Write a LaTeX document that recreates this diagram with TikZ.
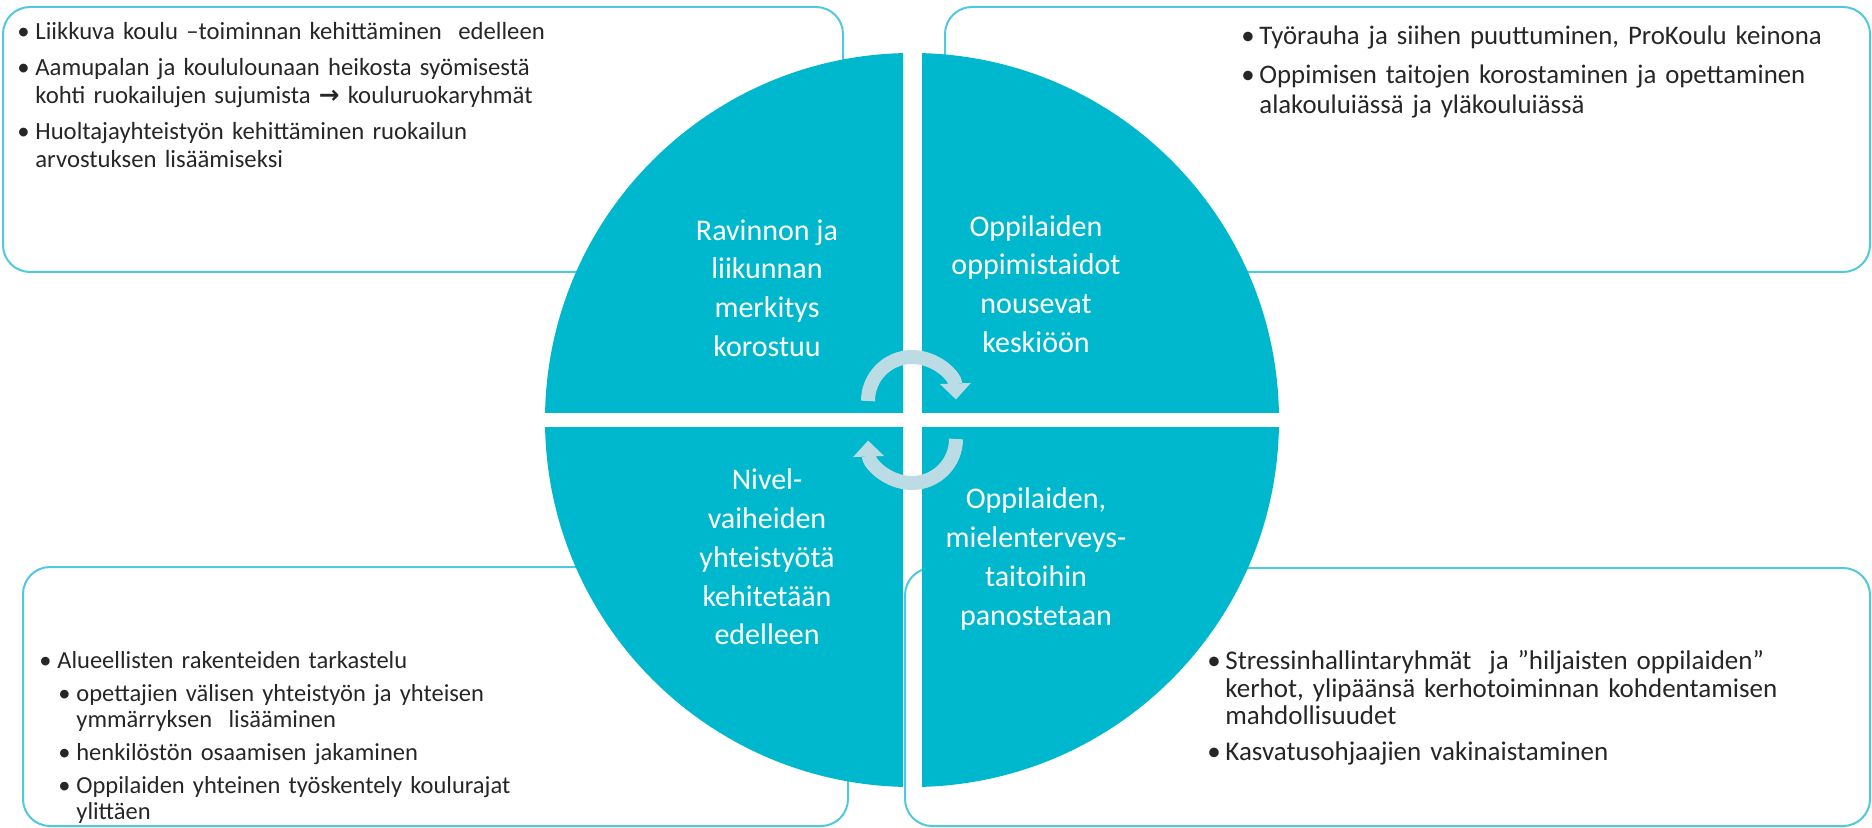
\documentclass[tikz,border=0pt]{standalone}
\usepackage{fontspec}
\setmainfont{Carlito}
\newfontfamily\arrowfont{DejaVu Sans}
\usetikzlibrary{arrows.meta}

\definecolor{circfill}{RGB}{0,184,206}
\definecolor{boxline}{RGB}{80,200,222}
\definecolor{arrowfill}{RGB}{187,219,229}
\definecolor{bodytext}{RGB}{38,38,38}

% bullet lines
\newcommand{\bitem}[1]{\par\hangindent=9pt\hangafter=1\noindent\makebox[9pt][l]{\textbullet}#1}
\newcommand{\bsub}[1]{\par\hangindent=18.5pt\hangafter=1\noindent\hspace*{9.5pt}\makebox[9pt][l]{\textbullet}#1}

\begin{document}
\begin{tikzpicture}[x=0.5pt, y=-0.5pt,
    infobox/.style={draw=boxline, line width=1pt, rounded corners=13.5pt},
    quadtext/.style={text=white, align=center, inner sep=0pt,
        font=\fontsize{15pt}{19.4pt}\selectfont},
    listtext/.style={text=bodytext, align=left, inner sep=0pt, anchor=north west,
        text width=440pt},
    cyclearrow/.style={draw=arrowfill, line width=7pt,
        -{Triangle[length=8pt,width=15pt]}}]

    \useasboundingbox (0,0) rectangle (1872,828);

    % boxes behind the circle
    \draw[infobox] (3,7) rectangle (843,272);
    \draw[infobox] (945,7) rectangle (1870,272);
    \draw[infobox] (23,567) rectangle (848,826);
    \draw[infobox] (905,568) rectangle (1870,826);

    % quadrants of the circle
    \foreach \xa/\ya/\xb/\yb in {500/40/903/412, 922/40/1320/412,
                                 500/427/903/800, 922/427/1320/800}{
        \begin{scope}
            \clip (\xa,\ya) rectangle (\xb,\yb);
            \fill[circfill] (912,420) circle[radius=367];
        \end{scope}
    }

    % cycle arrows
    \draw[cyclearrow] (868,401) arc[start angle=180, end angle=358, radius=44];
    \draw[cyclearrow] (956,439) arc[start angle=0, end angle=178, radius=44];

    % quadrant labels
    \node[quadtext] (ravinto) at (767,288) {Ravinnon ja\\liikunnan\\merkitys\\korostuu};
    \node[quadtext] (oppimis) at (1036,284) {Oppilaiden\\oppimistaidot\\nousevat\\keskiöön};
    \node[quadtext] (nivel) at (767,557) {Nivel-\\vaiheiden\\yhteistyötä\\kehitetään\\edelleen};
    \node[quadtext] (mieli) at (1036,559) {Oppilaiden,\\mielenterveys-\\taitoihin\\panostetaan};

    % lists in the boxes
    \node[listtext, font=\fontsize{12.35pt}{14.25pt}\selectfont] (tlist) at (17,4) {%
        \setlength{\parskip}{3.5pt}%
        \bitem{Liikkuva koulu –toiminnan kehittäminen \ edelleen}
        \bitem{Aamupalan ja koululounaan heikosta syömisestä\newline kohti ruokailujen sujumista {\arrowfont\bfseries →} kouluruokaryhmät}
        \bitem{Huoltajayhteistyön kehittäminen ruokailun\newline arvostuksen lisäämiseksi}\par};
    \node[listtext, font=\fontsize{13.4pt}{15pt}\selectfont] (trlist) at (1241,5) {%
        \setlength{\parskip}{4.5pt}%
        \bitem{Työrauha ja siihen puuttuminen, ProKoulu keinona}
        \bitem{Oppimisen taitojen korostaminen ja opettaminen\newline alakouluiässä ja yläkouluiässä}\par};
    \node[listtext, font=\fontsize{12.25pt}{13pt}\selectfont] (bllist) at (39,635) {%
        \setlength{\parskip}{3.5pt}%
        \bitem{Alueellisten rakenteiden tarkastelu}
        \bsub{opettajien välisen yhteistyön ja yhteisen\newline ymmärryksen \ lisääminen}
        \bsub{henkilöstön osaamisen jakaminen}
        \bsub{Oppilaiden yhteinen työskentely koulurajat\newline ylittäen}\par};
    \node[listtext, font=\fontsize{13.5pt}{13.75pt}\selectfont] (brlist) at (1207,634) {%
        \setlength{\parskip}{4pt}%
        \bitem{Stressinhallintaryhmät \ ja ”hiljaisten oppilaiden”\newline kerhot, ylipäänsä kerhotoiminnan kohdentamisen\newline mahdollisuudet}
        \bitem{Kasvatusohjaajien vakinaistaminen}\par};

\end{tikzpicture}
\end{document}
